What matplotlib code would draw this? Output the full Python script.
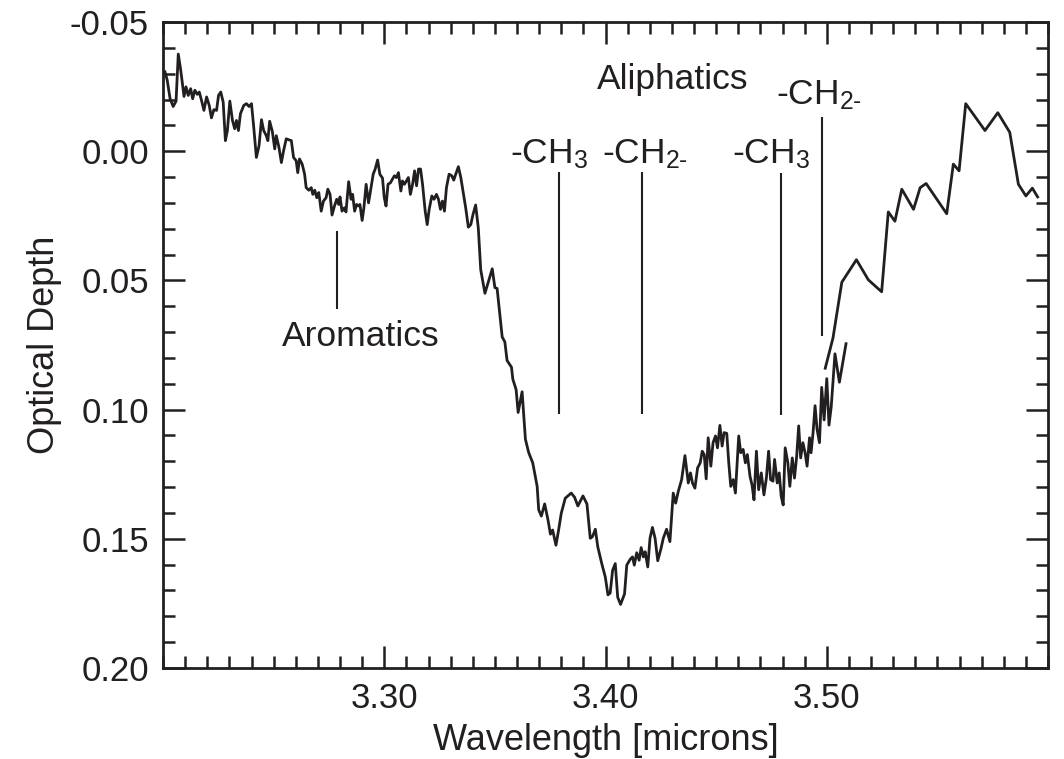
import matplotlib
matplotlib.use("Agg")
import matplotlib.pyplot as plt
from matplotlib.ticker import MultipleLocator, FixedLocator, FormatStrFormatter

plt.rcParams['font.family'] = ['Liberation Sans', 'DejaVu Sans']
plt.rcParams['mathtext.fontset'] = 'custom'
plt.rcParams['mathtext.rm'] = 'Liberation Sans'
plt.rcParams['mathtext.it'] = 'Liberation Sans:italic'
plt.rcParams['axes.unicode_minus'] = False

# spectrum, dense part
wavelength = [
    3.2009, 3.2019, 3.2032, 3.2046, 3.2059, 3.2069, 3.2080, 3.2095, 3.2104, 3.2114,
    3.2125, 3.2134, 3.2144, 3.2155, 3.2164, 3.2174, 3.2185, 3.2197, 3.2209, 3.2219,
    3.2230, 3.2242, 3.2251, 3.2261, 3.2272, 3.2282, 3.2291, 3.2302, 3.2314, 3.2324,
    3.2332, 3.2341, 3.2350, 3.2365, 3.2377, 3.2389, 3.2400, 3.2410, 3.2422, 3.2434,
    3.2445, 3.2455, 3.2467, 3.2474, 3.2482, 3.2494, 3.2505, 3.2512, 3.2524, 3.2535,
    3.2545, 3.2557, 3.2569, 3.2580, 3.2590, 3.2602, 3.2609, 3.2617, 3.2629, 3.2640,
    3.2647, 3.2659, 3.2670, 3.2677, 3.2686, 3.2695, 3.2704, 3.2715, 3.2725, 3.2737,
    3.2745, 3.2755, 3.2764, 3.2775, 3.2785, 3.2794, 3.2800, 3.2809, 3.2820, 3.2827,
    3.2839, 3.2850, 3.2857, 3.2866, 3.2875, 3.2884, 3.2890, 3.2900, 3.2908, 3.2918,
    3.2929, 3.2940, 3.2950, 3.2959, 3.2970, 3.2980, 3.2992, 3.3000, 3.3008, 3.3017,
    3.3028, 3.3037, 3.3046, 3.3055, 3.3064, 3.3075, 3.3082, 3.3091, 3.3100, 3.3109,
    3.3118, 3.3128, 3.3137, 3.3146, 3.3155, 3.3164, 3.3173, 3.3185, 3.3194, 3.3203,
    3.3215, 3.3225, 3.3236, 3.3245, 3.3254, 3.3263, 3.3272, 3.3281, 3.3293, 3.3305,
    3.3314, 3.3323, 3.3335, 3.3346, 3.3356, 3.3368, 3.3380, 3.3391, 3.3401, 3.3413,
    3.3425, 3.3436, 3.3455, 3.3488, 3.3500, 3.3510, 3.3533, 3.3545, 3.3555, 3.3575,
    3.3581, 3.3596, 3.3605, 3.3623, 3.3638, 3.3653, 3.3671, 3.3691, 3.3698, 3.3710,
    3.3725, 3.3740, 3.3751, 3.3761, 3.3776, 3.3788, 3.3800, 3.3818, 3.3845, 3.3860,
    3.3875, 3.3898, 3.3916, 3.3931, 3.3941, 3.3954, 3.3965, 3.3983, 3.3999, 3.4011,
    3.4021, 3.4032, 3.4044, 3.4055, 3.4068, 3.4086, 3.4096, 3.4111, 3.4122, 3.4130,
    3.4141, 3.4152, 3.4161, 3.4171, 3.4179, 3.4191, 3.4201, 3.4212, 3.4224, 3.4236,
    3.4251, 3.4261, 3.4276, 3.4291, 3.4306, 3.4317, 3.4329, 3.4344, 3.4359, 3.4374,
    3.4384, 3.4393, 3.4404, 3.4416, 3.4428, 3.4437, 3.4446, 3.4455, 3.4464, 3.4476,
    3.4486, 3.4497, 3.4506, 3.4517, 3.4527, 3.4536, 3.4548, 3.4557, 3.4566, 3.4577,
    3.4587, 3.4602, 3.4611, 3.4622, 3.4632, 3.4641, 3.4653, 3.4662, 3.4671, 3.4682,
    3.4692, 3.4704, 3.4716, 3.4727, 3.4737, 3.4746, 3.4757, 3.4764, 3.4776, 3.4785,
    3.4794, 3.4803, 3.4812, 3.4824, 3.4833, 3.4844, 3.4854, 3.4864, 3.4873, 3.4882,
    3.4892, 3.4902, 3.4911, 3.4922, 3.4929, 3.4938, 3.4947, 3.4956, 3.4967, 3.4977,
    3.4988, 3.5000, 3.5010, 3.5020, 3.5037, 3.5057, 3.5087,
]
depth = [
    -0.0307, -0.0275, -0.0203, -0.0173, -0.0194, -0.0376, -0.0314, -0.0212, -0.0249, -0.0216,
    -0.0242, -0.0203, -0.0236, -0.0220, -0.0229, -0.0197, -0.0158, -0.0210, -0.0177, -0.0129,
    -0.0161, -0.0158, -0.0216, -0.0229, -0.0190, -0.0041, -0.0080, -0.0194, -0.0119, -0.0087,
    -0.0119, -0.0080, -0.0145, -0.0177, -0.0184, -0.0173, -0.0184, -0.0093, 0.0024, -0.0021,
    -0.0122, -0.0080, -0.0060, -0.0041, -0.0116, -0.0077, -0.0009, -0.0060, -0.0015, 0.0044,
    -0.0002, -0.0048, -0.0044, -0.0041, 0.0024, 0.0037, 0.0083, 0.0030, 0.0050, 0.0089,
    0.0141, 0.0151, 0.0141, 0.0167, 0.0151, 0.0180, 0.0160, 0.0232, 0.0193, 0.0180,
    0.0147, 0.0167, 0.0247, 0.0212, 0.0186, 0.0206, 0.0177, 0.0232, 0.0219, 0.0235,
    0.0118, 0.0186, 0.0167, 0.0232, 0.0206, 0.0212, 0.0206, 0.0268, 0.0219, 0.0128,
    0.0200, 0.0141, 0.0089, 0.0069, 0.0034, 0.0089, 0.0104, 0.0180, 0.0212, 0.0128,
    0.0122, 0.0108, 0.0095, 0.0102, 0.0083, 0.0154, 0.0115, 0.0128, 0.0115, 0.0102,
    0.0167, 0.0128, 0.0076, 0.0134, 0.0069, 0.0069, 0.0128, 0.0232, 0.0284, 0.0225,
    0.0173, 0.0186, 0.0167, 0.0186, 0.0225, 0.0193, 0.0232, 0.0141, 0.0089, 0.0095,
    0.0112, 0.0089, 0.0060, 0.0102, 0.0154, 0.0219, 0.0294, 0.0284, 0.0245, 0.0208,
    0.0297, 0.0459, 0.0550, 0.0455, 0.0528, 0.0531, 0.0719, 0.0738, 0.0810, 0.0836,
    0.0882, 0.0923, 0.1011, 0.0931, 0.1115, 0.1167, 0.1206, 0.1297, 0.1388, 0.1412,
    0.1365, 0.1427, 0.1482, 0.1466, 0.1525, 0.1466, 0.1401, 0.1343, 0.1323, 0.1339,
    0.1373, 0.1334, 0.1365, 0.1498, 0.1492, 0.1463, 0.1531, 0.1596, 0.1648, 0.1717,
    0.1710, 0.1622, 0.1596, 0.1726, 0.1754, 0.1713, 0.1602, 0.1580, 0.1570, 0.1602,
    0.1554, 0.1583, 0.1534, 0.1570, 0.1550, 0.1609, 0.1498, 0.1456, 0.1498, 0.1585,
    0.1537, 0.1498, 0.1463, 0.1511, 0.1323, 0.1362, 0.1316, 0.1271, 0.1178, 0.1284,
    0.1245, 0.1284, 0.1304, 0.1226, 0.1206, 0.1161, 0.1174, 0.1268, 0.1109, 0.1219,
    0.1128, 0.1102, 0.1148, 0.1061, 0.1141, 0.1089, 0.1092, 0.1206, 0.1297, 0.1271,
    0.1323, 0.1102, 0.1167, 0.1154, 0.1206, 0.1174, 0.1258, 0.1291, 0.1349, 0.1161,
    0.1310, 0.1245, 0.1330, 0.1265, 0.1161, 0.1271, 0.1277, 0.1193, 0.1284, 0.1245,
    0.1336, 0.1369, 0.1148, 0.1206, 0.1297, 0.1187, 0.1265, 0.1180, 0.1063, 0.1187,
    0.1128, 0.1167, 0.1219, 0.1109, 0.1167, 0.1089, 0.0985, 0.1076, 0.1128, 0.0914,
    0.1040, 0.0880, 0.1060, 0.0990, 0.0784, 0.0894, 0.0745,
]

# spectrum, sparse long-wavelength part
wavelength_b = [
    3.4993, 3.5028, 3.5068, 3.5134, 3.5188, 3.5248, 3.5278, 3.5308, 3.5339, 3.5392,
    3.5422, 3.5449, 3.5542, 3.5572, 3.5598, 3.5628, 3.5715, 3.5773, 3.5827, 3.5866,
    3.5900, 3.5929, 3.5953,
]
depth_b = [
    0.0840, 0.0723, 0.0507, 0.0420, 0.0498, 0.0544, 0.0235, 0.0271, 0.0147, 0.0225,
    0.0141, 0.0125, 0.0242, 0.0050, 0.0076, -0.0184, -0.0080, -0.0149, -0.0073, 0.0128,
    0.0173, 0.0143, 0.0177,
]

# band markers
mark_x = [3.2785, 3.3788, 3.4164, 3.4793, 3.4979]
mark_top = [0.031, 0.008, 0.008, 0.0086, -0.0132]
mark_bottom = [0.0609, 0.1018, 0.1018, 0.1022, 0.0715]

label_text = ['Aromatics', 'Aliphatics', r'-CH$_{3}$', r'-CH$_{\text{2-}}$',
              r'-CH$_{3}$', r'-CH$_{\text{2-}}$']
label_x = [3.2895, 3.4305, 3.3743, 3.4180, 3.4746, 3.4965]
label_y = [0.0755, -0.0241, 0.0045, 0.0045, 0.0045, -0.0180]

ink = '#231f20'
fig = plt.figure(figsize=(10.64, 7.59), dpi=100)
ax = fig.add_axes([0.1532, 0.1199, 0.8318, 0.8511])

ax.plot(wavelength, depth, color=ink, lw=2.0)
ax.plot(wavelength_b, depth_b, color=ink, lw=2.0)
ax.vlines(mark_x, mark_top, mark_bottom, color=ink, lw=1.5)

for t, x, y in zip(label_text, label_x, label_y):
    ax.text(x, y, t, ha='center', va='baseline', fontsize=25.5, color=ink)

ax.set_xlim(3.20, 3.60)
ax.set_ylim(0.20, -0.05)

ax.xaxis.set_major_locator(FixedLocator([3.30, 3.40, 3.50]))
ax.xaxis.set_minor_locator(MultipleLocator(0.01))
ax.xaxis.set_major_formatter(FormatStrFormatter('%.2f'))
ax.yaxis.set_major_locator(MultipleLocator(0.05))
ax.yaxis.set_minor_locator(MultipleLocator(0.01))
ax.yaxis.set_major_formatter(FormatStrFormatter('%.2f'))

ax.tick_params(which='both', direction='in', top=True, right=True,
               color=ink, width=1.8, labelsize=25, labelcolor=ink, pad=10)
ax.tick_params(which='major', length=16)
ax.tick_params(which='minor', length=8.5)
for s in ax.spines.values():
    s.set_linewidth(2)
    s.set_color(ink)

ax.set_xlabel('Wavelength [microns]', fontsize=26, color=ink, labelpad=6)
ax.set_ylabel('Optical Depth', fontsize=26, color=ink, labelpad=6)

fig.savefig('out.png', dpi=100)
